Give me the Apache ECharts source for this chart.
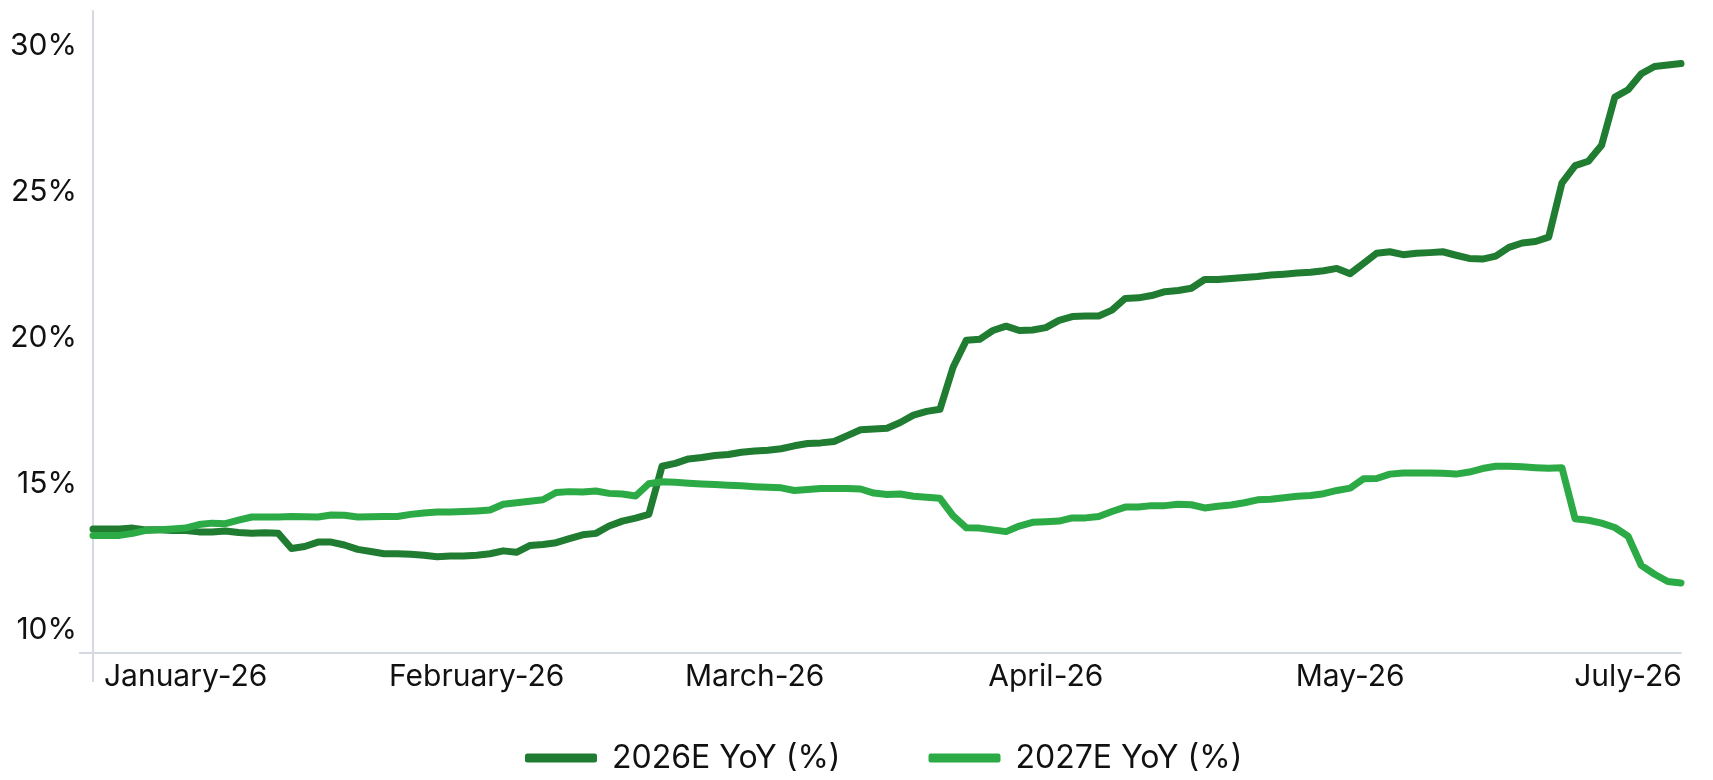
<!DOCTYPE html>
<html>
<head>
<meta charset="utf-8">
<script src="https://cdn.jsdelivr.net/npm/echarts@6/dist/echarts.min.js"></script>
<style>
  html, body { margin: 0; padding: 0; background: #fff; }
  #main { width: 1713px; height: 780px; }
</style>
</head>
<body>
<div id="main"></div>
<script>
// month labels and the point index each one sits under
var monthLabels = ['January-26', 'February-26', 'March-26', 'April-26', 'May-26', 'July-26'];
var labelIdx = [7, 29, 50, 72, 95, 116];

var yTicks = [10, 15, 20, 25, 30];

var yoy2026 = [
  13.45, 13.45, 13.45, 13.48, 13.42, 13.42, 13.4, 13.4, 13.35, 13.35,
  13.38, 13.33, 13.3, 13.32, 13.3, 12.78, 12.85, 13.0, 13.0, 12.9,
  12.75, 12.68, 12.6, 12.6, 12.58, 12.55, 12.5, 12.52, 12.52, 12.55,
  12.6, 12.7, 12.65, 12.88, 12.92, 12.98, 13.12, 13.25, 13.3, 13.55,
  13.72, 13.82, 13.95, 15.6, 15.7, 15.85, 15.9, 15.97, 16.0, 16.08,
  16.12, 16.15, 16.2, 16.3, 16.38, 16.4, 16.45, 16.65, 16.85, 16.88,
  16.9, 17.1, 17.35, 17.48, 17.55, 19.0, 19.92, 19.95, 20.25, 20.4,
  20.25, 20.27, 20.35, 20.6, 20.73, 20.75, 20.75, 20.95, 21.35, 21.37,
  21.45, 21.58, 21.62, 21.7, 22.0, 22.0, 22.03, 22.07, 22.1, 22.15,
  22.18, 22.22, 22.25, 22.3, 22.38, 22.2, 22.55, 22.9, 22.95, 22.85,
  22.9, 22.92, 22.95, 22.83, 22.72, 22.7, 22.8, 23.1, 23.25, 23.3,
  23.45, 25.3, 25.9, 26.05, 26.6, 28.25, 28.5, 29.05, 29.3, 29.35,
  29.4
];

var yoy2027 = [
  13.23, 13.23, 13.23, 13.3, 13.4, 13.42, 13.45, 13.48, 13.6, 13.65,
  13.63, 13.75, 13.86, 13.86, 13.86, 13.88, 13.87, 13.86, 13.93, 13.92,
  13.86, 13.87, 13.88, 13.88, 13.95, 14.0, 14.03, 14.03, 14.05, 14.07,
  14.1, 14.3, 14.35, 14.4, 14.45, 14.7, 14.73, 14.72, 14.75, 14.67,
  14.65, 14.58, 15.0, 15.07, 15.05, 15.02, 14.99, 14.97, 14.95, 14.93,
  14.9, 14.88, 14.86, 14.77, 14.8, 14.84, 14.84, 14.84, 14.82, 14.68,
  14.63, 14.65, 14.57, 14.54, 14.5, 13.9, 13.49, 13.48, 13.42, 13.36,
  13.55, 13.68, 13.7, 13.72, 13.83, 13.83, 13.88, 14.05, 14.2, 14.2,
  14.25, 14.25, 14.3, 14.28, 14.17, 14.23, 14.27, 14.35, 14.45, 14.47,
  14.52, 14.57, 14.6, 14.66, 14.77, 14.85, 15.17, 15.18, 15.33, 15.37,
  15.37, 15.37, 15.36, 15.33, 15.4, 15.52, 15.6, 15.6, 15.58, 15.55,
  15.53, 15.55, 13.8, 13.75, 13.65, 13.5, 13.2, 12.2, 11.9, 11.65,
  11.6
];

var categories = yoy2026.map(function (v, i) { return String(i); });

var axisColor = '#d5dae1';
var font = 'Inter, "Noto Sans", sans-serif';

var myChart = echarts.init(document.getElementById('main'));

var option = {
  animation: false,
  grid: { left: 93, right: 32, top: 11, bottom: 127, containLabel: false },
  legend: {
    left: 520,
    top: 737,
    itemWidth: 72,
    itemHeight: 9,
    itemGap: 88,
    icon: 'roundRect',
    textStyle: {
      fontFamily: font,
      fontSize: 32,
      color: '#111',
      padding: [0, 0, 0, 10]
    },
    data: ['2026E YoY (%)', '2027E YoY (%)']
  },
  xAxis: {
    type: 'category',
    boundaryGap: false,
    data: categories,
    axisLine: { lineStyle: { color: axisColor, width: 2 } },
    axisTick: {
      show: true,
      length: 29,
      interval: function (index) { return index === 0; },
      lineStyle: { color: axisColor, width: 2 }
    },
    axisLabel: {
      interval: function (index) { return labelIdx.indexOf(index) >= 0; },
      formatter: function (val, index) {
        var k = labelIdx.indexOf(index);
        return k >= 0 ? monthLabels[k] : '';
      },
      margin: 9,
      fontFamily: font,
      fontSize: 30,
      color: '#111'
    },
    splitLine: { show: false }
  },
  yAxis: {
    type: 'value',
    min: 9.2,
    max: 31.2,
    axisLine: { show: true, lineStyle: { color: axisColor, width: 2 } },
    axisTick: {
      show: true,
      length: 14,
      customValues: [9.2],
      lineStyle: { color: axisColor, width: 2 }
    },
    axisLabel: {
      customValues: yTicks,
      formatter: function (v) { return Math.round(v) + '%'; },
      margin: 16,
      fontFamily: font,
      fontSize: 30,
      color: '#111'
    },
    splitLine: { show: false }
  },
  series: [
    {
      name: '2026E YoY (%)',
      type: 'line',
      data: yoy2026,
      showSymbol: false,
      symbol: 'none',
      color: '#1f7c31',
      lineStyle: { width: 7, cap: 'round', join: 'round' }
    },
    {
      name: '2027E YoY (%)',
      type: 'line',
      data: yoy2027,
      showSymbol: false,
      symbol: 'none',
      color: '#2baa45',
      lineStyle: { width: 7, cap: 'round', join: 'round' }
    }
  ]
};

myChart.setOption(option);
</script>
</body>
</html>
